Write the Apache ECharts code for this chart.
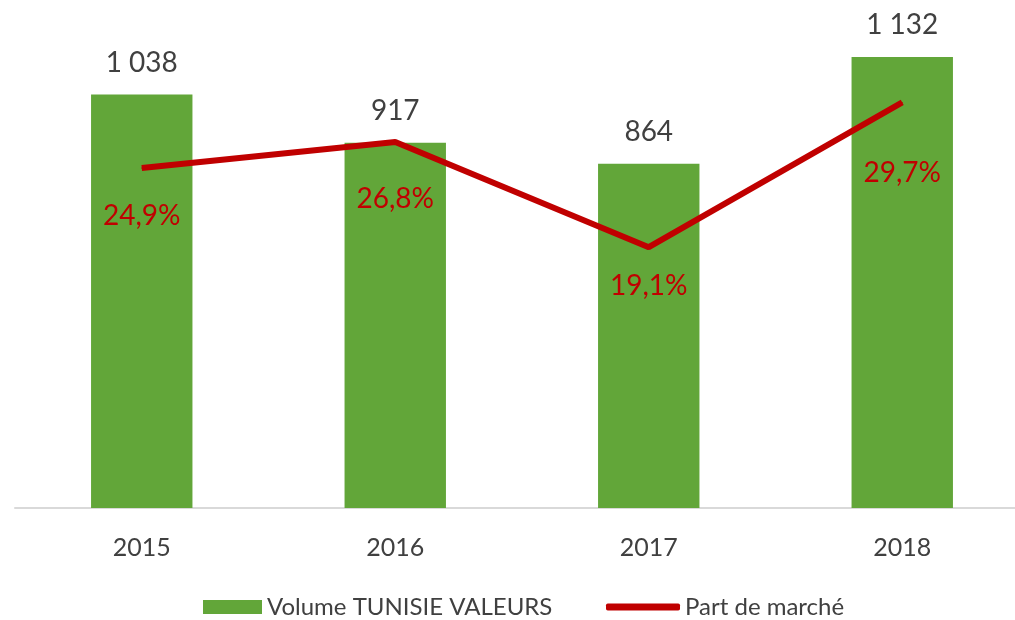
<!DOCTYPE html>
<html>
<head>
    <meta charset="utf-8">
    <script src="https://cdn.jsdelivr.net/npm/echarts@6/dist/echarts.min.js"></script>
    <style>
        html, body { margin: 0; padding: 0; background: #fff; }
        #main { width: 1015px; height: 620px; }
    </style>
</head>
<body>
<div id="main"></div>
<script type="text/javascript">
    // data
    var years = ['2015', '2016', '2017', '2018'];
    var volume = [1038, 917, 864, 1132];
    var share = [24.9, 26.8, 19.1, 29.7];
    // gap between line point and its label (px)
    var shareLabelGap = [34, 42, 24, 56];

    var font = 'Lato, "Open Sans", sans-serif';

    function fmtVol(v) {
        var s = String(v);
        return s.length > 3 ? s.slice(0, s.length - 3) + ' ' + s.slice(-3) : s;
    }

    var shareData = [];
    for (var i = 0; i < share.length; i++) {
        shareData.push({
            value: share[i],
            label: { distance: shareLabelGap[i] }
        });
    }

    var myChart = echarts.init(document.getElementById('main'));
    var option = {
        backgroundColor: '#fff',
        animation: false,
        grid: { left: 15, width: 1014, top: 30, bottom: 112, outerBoundsMode: 'none', containLabel: false },
        legend: [{
            left: 203, top: 595, padding: 0,
            itemWidth: 59, itemHeight: 14, itemGap: 4,
            textStyle: { color: '#404040', fontSize: 24, fontFamily: font },
            data: [{ name: 'Volume TUNISIE VALEURS', icon: 'rect' }]
        }, {
            left: 606, top: 595, padding: 0,
            itemWidth: 74, itemHeight: 7, itemGap: 4,
            textStyle: { color: '#404040', fontSize: 24, fontFamily: font },
            data: [{ name: 'Part de marché', icon: 'roundRect' }]
        }],
        xAxis: {
            type: 'category',
            data: years,
            axisTick: { show: false },
            axisLine: { lineStyle: { color: '#d9d9d9', width: 2 } },
            axisLabel: { color: '#404040', fontSize: 25, fontFamily: font, margin: 27 }
        },
        yAxis: [{
            type: 'value', min: 0, max: 1200, show: false, splitLine: { show: false }
        }, {
            type: 'value', min: 0, max: 35, show: false, splitLine: { show: false }
        }],
        series: [{
            name: 'Volume TUNISIE VALEURS',
            type: 'bar',
            barWidth: '40%',
            data: volume,
            itemStyle: { color: '#62a639' },
            label: {
                show: true, position: 'top', distance: 18,
                color: '#404040', fontSize: 28, fontFamily: font,
                formatter: function (p) { return fmtVol(p.value); }
            }
        }, {
            name: 'Part de marché',
            type: 'line',
            yAxisIndex: 1,
            data: shareData,
            symbol: 'circle',
            symbolSize: 1,
            lineStyle: { color: '#c00000', width: 6 },
            itemStyle: { color: '#c00000' },
            label: {
                show: true, position: 'bottom',
                color: '#c00000', fontSize: 28, fontFamily: font,
                formatter: function (p) { return String(p.value).replace('.', ',') + '%'; }
            }
        }]
    };
    myChart.setOption(option);
</script>
</body>
</html>
